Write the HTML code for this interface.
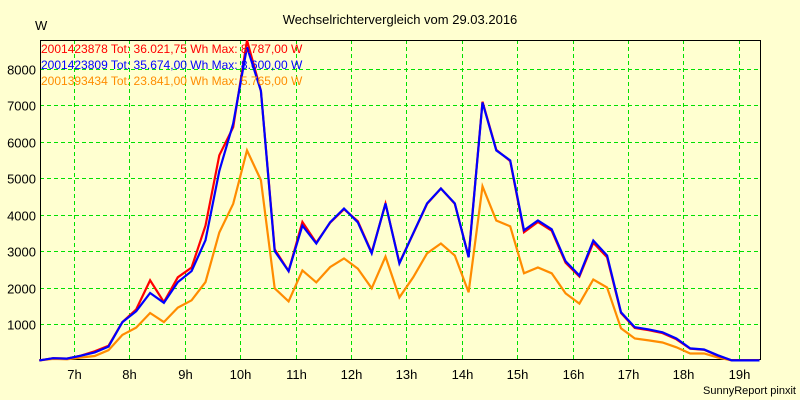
<!DOCTYPE html>
<html><head><meta charset="utf-8"><style>
body{margin:0;background:#ffffd0;}
svg{display:block;font-family:"Liberation Sans",sans-serif;}
</style></head><body>
<svg id="chart" width="800" height="400" viewBox="0 0 800 400">
<rect x="0" y="0" width="800" height="400" fill="#ffffd0"/>
<text x="400" y="24" text-anchor="middle" font-size="13" fill="#000">Wechselrichtervergleich vom 29.03.2016</text>
<text x="35" y="30" font-size="13" fill="#000">W</text>
<text x="796" y="394" text-anchor="end" font-size="11" fill="#000">SunnyReport pinxit</text>
<g id="grid"></g>
<g id="axes"></g>
<g id="series"></g>
<g id="legend"></g>
</svg>
<script>
const startHour = 6.373;
const stepHour = 0.25;
const xTickHours = [7,8,9,10,11,12,13,14,15,16,17,18,19];
const xTickLabels = ["7h","8h","9h","10h","11h","12h","13h","14h","15h","16h","17h","18h","19h"];
const yTicks = [1000,2000,3000,4000,5000,6000,7000,8000];
const seriesRed = [0,60,50,130,250,400,1050,1400,2200,1600,2280,2550,3700,5630,6400,8787,7400,3050,2450,3800,3230,3780,4150,3820,2960,4300,2680,3480,4300,4720,4300,2850,7100,5780,5470,3520,3800,3560,2680,2300,3230,2830,1300,890,830,750,580,320,290,130,0,0,0];
const seriesBlue = [0,60,50,130,220,380,1050,1350,1850,1580,2150,2450,3300,5200,6500,8600,7400,3000,2450,3700,3210,3790,4170,3790,2940,4310,2660,3490,4310,4720,4310,2830,7080,5765,5490,3570,3840,3600,2720,2330,3290,2880,1320,910,850,770,600,330,300,140,0,0,0];
const seriesOrange = [0,40,30,80,120,280,700,900,1300,1050,1450,1650,2150,3510,4300,5765,4950,1980,1620,2470,2140,2560,2800,2520,1980,2850,1730,2280,2940,3210,2880,1870,4780,3840,3680,2390,2550,2390,1840,1560,2220,2000,880,600,550,490,360,190,190,80,0,0,0];
const legendLabels = ["2001423878 Tot: 36.021,75 Wh Max: 8.787,00 W","2001423809 Tot: 35.674,00 Wh Max: 8.600,00 W","2001393434 Tot: 23.841,00 Wh Max: 5.765,00 W"];

const L=40,R=760,T=40,B=359;
const xPerHour=55.4, x7=74;
function xScale(h){return x7+(h-7)*xPerHour;}
function yScale(v){return 360.4-v*0.03643;}
const NS="http://www.w3.org/2000/svg";
function mk(tag,attrs,parent){const e=document.createElementNS(NS,tag);for(const k in attrs)e.setAttribute(k,attrs[k]);parent.appendChild(e);return e;}
const grid=document.getElementById('grid'),axes=document.getElementById('axes'),ser=document.getElementById('series'),leg=document.getElementById('legend');

yTicks.forEach(v=>{
  const y=Math.round(yScale(v))+0.5;
  const g=mk('line',{x1:L,x2:R,y1:y,y2:y,stroke:'#00e000','stroke-width':1,'stroke-dasharray':'4,3'},grid);
  
  
  const t=mk('text',{x:36,y:y+5,'text-anchor':'end','font-size':13,fill:'#000'},axes);
  t.textContent=String(v);
  
  
});
xTickHours.forEach((h,i)=>{
  const x=Math.round(xScale(h))+0.5;
  const g=mk('line',{x1:x,x2:x,y1:T,y2:B,stroke:'#00e000','stroke-width':1,'stroke-dasharray':'4,3'},grid);
  
  
  const t=mk('text',{x:x,y:379,'text-anchor':'middle','font-size':13,fill:'#000'},axes);
  t.textContent=xTickLabels[i];
  
  
});
const box=mk('rect',{x:L+0.5,y:T+0.5,width:R-L,height:B-T,fill:'none',stroke:'#000','stroke-width':1},axes);



function drawSeries(vals,color,name){
  const pts=vals.map((v,k)=>xScale(startHour+k*stepHour).toFixed(1)+','+yScale(v).toFixed(1)).join(' ');
  const p=mk('polyline',{points:pts,fill:'none',stroke:color,'stroke-width':2.2,'stroke-linejoin':'miter'},ser);
  
  
}
drawSeries(seriesOrange,'#ff8c00','series-2001393434');
drawSeries(seriesRed,'#ff0000','series-2001423878');
drawSeries(seriesBlue,'#0000ff','series-2001423809');

const legColors=['#ff0000','#0000ff','#ff8c00'];
legendLabels.forEach((s,i)=>{
  const t=mk('text',{x:41,y:53+i*16,'font-size':12,fill:legColors[i]},leg);
  t.textContent=s;
  
  
});
</script>
</body></html>
